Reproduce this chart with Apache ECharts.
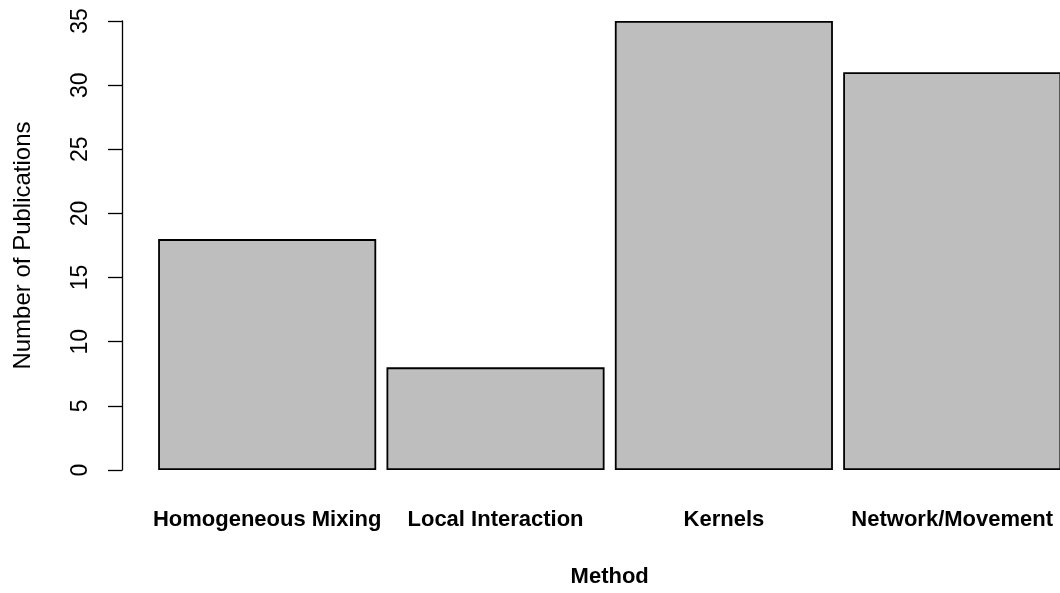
<!DOCTYPE html>
<html>
<head>
<meta charset="utf-8">
<style>
  html, body { margin: 0; padding: 0; background: #ffffff; overflow: hidden; width: 1060px; height: 593px; }
  #chart { width: 1067px; height: 593px; }
</style>
<script src="https://cdn.jsdelivr.net/npm/echarts@6/dist/echarts.min.js"></script>
</head>
<body>
<div id="chart"></div>
<script>
const categories = ['Homogeneous Mixing', 'Local Interaction', 'Kernels', 'Network/Movement'];
const publications = [18, 8, 35, 31];
const yTicks = [0, 5, 10, 15, 20, 25, 30, 35];

const FONT = '"Liberation Sans", Arial, Helvetica, sans-serif';
const chart = echarts.init(document.getElementById('chart'), null, { renderer: 'canvas' });

chart.setOption({
  animation: false,
  backgroundColor: '#ffffff',
  grid: { left: 153, right: 0.6, top: 21, bottom: 120.7, containLabel: false },
  xAxis: {
    type: 'category',
    data: categories,
    name: 'Method',
    nameLocation: 'middle',
    nameGap: 96,
    nameTextStyle: { fontFamily: FONT, fontSize: 22, fontWeight: 'bold', color: '#000' },
    axisLine: { show: false },
    axisTick: { show: false },
    axisLabel: { interval: 0, margin: 39, fontFamily: FONT, fontSize: 22, fontWeight: 'bold', color: '#000' },
    splitLine: { show: false }
  },
  yAxis: {
    type: 'value',
    min: yTicks[0],
    max: yTicks[yTicks.length - 1],
    interval: 5,
    offset: 31,
    name: 'Number of Publications',
    nameLocation: 'middle',
    nameGap: 87,
    nameTextStyle: { fontFamily: FONT, fontSize: 24, color: '#000' },
    axisLine: { show: true, lineStyle: { color: '#000', width: 1.3 } },
    axisTick: { show: true, length: 14, lineStyle: { color: '#000', width: 1.3 } },
    axisLabel: { rotate: 90, margin: 30, fontFamily: FONT, fontSize: 23, color: '#000' },
    splitLine: { show: false }
  },
  series: [{
    type: 'bar',
    data: publications,
    barCategoryGap: '4.5%',
    itemStyle: { color: '#bebebe', borderColor: '#000', borderWidth: 1.8 },
    emphasis: { disabled: true }
  }]
});
</script>
</body>
</html>
